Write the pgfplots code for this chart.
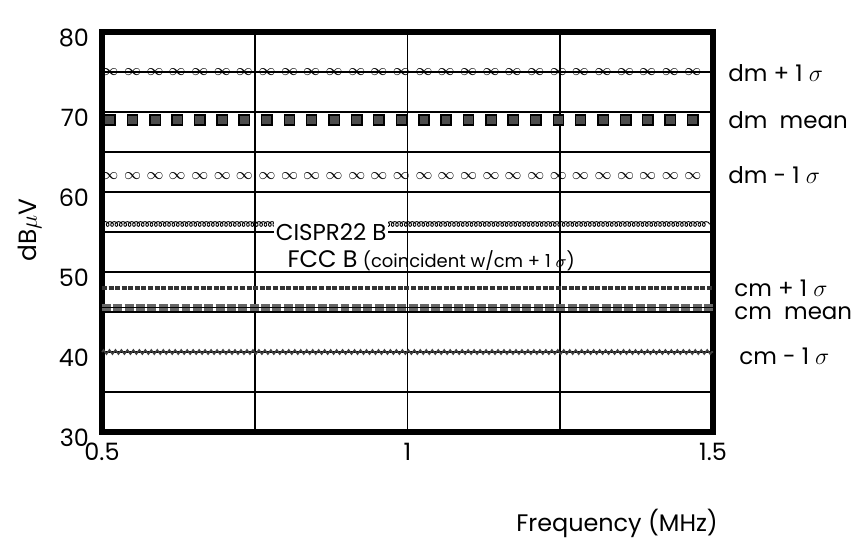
\documentclass[border=0pt]{standalone}
\usepackage{pgfplots}
\pgfplotsset{compat=1.18}
\usepackage{pgfplotstable}
\usepackage{fontspec}
\setmainfont{Poppins}
\usetikzlibrary{decorations.pathmorphing}

% marks of the three dm series
\pgfplotstableread{
x      dmp  dmean  dmm
0.513  75   69     62
0.550  75   69     62
0.587  75   69     62
0.623  75   69     62
0.660  75   69     62
0.697  75   69     62
0.733  75   69     62
0.770  75   69     62
0.807  75   69     62
0.843  75   69     62
0.880  75   69     62
0.917  75   69     62
0.953  75   69     62
0.990  75   69     62
1.027  75   69     62
1.063  75   69     62
1.100  75   69     62
1.137  75   69     62
1.173  75   69     62
1.210  75   69     62
1.247  75   69     62
1.283  75   69     62
1.320  75   69     62
1.357  75   69     62
1.393  75   69     62
1.430  75   69     62
1.467  75   69     62
}\dmdata

\begin{document}
\begin{tikzpicture}
\useasboundingbox (-51bp,-63bp) rectangle (380bp,216bp);
\begin{axis}[
    scale only axis,
    width=305.5bp, height=200bp,
    xmin=0.5, xmax=1.5,
    ymin=30, ymax=80,
    xtick={0.5,1,1.5},
    xticklabels={0.5,1,1.5},
    minor xtick={0.75,1.25},
    ytick={30,40,...,80},
    minor ytick={35,45,...,75},
    grid=both,
    major grid style={black, line width=0.9pt},
    minor grid style={black, line width=0.9pt},
    major tick length=0pt, minor tick length=0pt,
    axis line style={line width=3bp},
    clip=false,
    tick label style={font=\fontsize{12}{14}\selectfont},
    /pgf/number format/assume math mode=true,
    yticklabel style={xshift=-3bp, yshift=-3bp},
    xticklabel style={yshift=-2bp},
    xlabel={Frequency (MHz)},
    xlabel style={at={(axis description cs:0.843,0)}, anchor=center,
                  yshift=-45.5bp, font=\fontsize{12}{14}\selectfont},
    ylabel={dB$\mu$V},
    ylabel style={at={(axis description cs:-0.118,0.505)}, anchor=center,
                  font=\fontsize{12.5}{14}\selectfont},
]

% dm + 1 sigma: line with marks
\addplot[black, line width=0.6pt] coordinates {(0.5,75) (1.5,75)};
\addplot[only marks, mark=text, text mark={\fontsize{8}{8}\selectfont$\infty$}]
    table[x=x, y=dmp] {\dmdata};

% dm mean
\addplot[only marks, mark=square*, mark size=2.6pt,
         mark options={fill=black!70, draw=black, line width=0.7pt}]
    table[x=x, y=dmean] {\dmdata};

% dm - 1 sigma
\addplot[only marks, mark=text, text mark={\fontsize{8}{8}\selectfont$\infty$}]
    table[x=x, y=dmm] {\dmdata};

% CISPR22 B
\addplot[black, line width=0.45pt, decorate,
         decoration={coil, aspect=1, amplitude=1.2pt, segment length=2.2pt}]
    coordinates {(0.5,56) (1.5,56)};

% cm + 1 sigma (= FCC B)
\addplot[black!80, line width=2.4pt, dash pattern=on 2.5pt off 0.8pt]
    coordinates {(0.5,48) (1.5,48)};

% cm mean
\addplot[black!60, line width=3.4pt, dash pattern=on 4.5pt off 1.2pt,
         postaction={draw=black, line width=0.6pt, solid}]
    coordinates {(0.5,45.6) (1.5,45.6)};

% cm - 1 sigma
\addplot[black!75, line width=0.8pt, decorate,
         decoration={zigzag, amplitude=1pt, segment length=3pt}]
    coordinates {(0.5,40) (1.5,40)};

\node[fill=white, inner sep=1pt, font=\fontsize{11.5}{12}\selectfont]
    at (axis cs:0.875,55) {CISPR22 B};
\node[anchor=west, inner sep=0pt] at (axis cs:0.803,51.4)
    {{\fontsize{12}{14}\selectfont FCC B} {\fontsize{9}{10}\selectfont (coincident w/cm + 1 $\sigma$)}};

\begin{scope}[every node/.style={anchor=west, inner sep=0pt, font=\fontsize{11.5}{13}\selectfont}]
\node at ([xshift=7.5bp]axis cs:1.5,74.9) {dm + 1 $\sigma$};
\node at ([xshift=7.5bp]axis cs:1.5,69) {dm\ \ mean};
\node at ([xshift=7.5bp]axis cs:1.5,62.1) {dm - 1 $\sigma$};
\node at ([xshift=10.5bp]axis cs:1.5,48) {cm + 1 $\sigma$};
\node at ([xshift=10.5bp]axis cs:1.5,44.9) {cm\ \ mean};
\node at ([xshift=13bp]axis cs:1.5,39.4) {cm - 1 $\sigma$};
\end{scope}
\end{axis}
\end{tikzpicture}
\end{document}
